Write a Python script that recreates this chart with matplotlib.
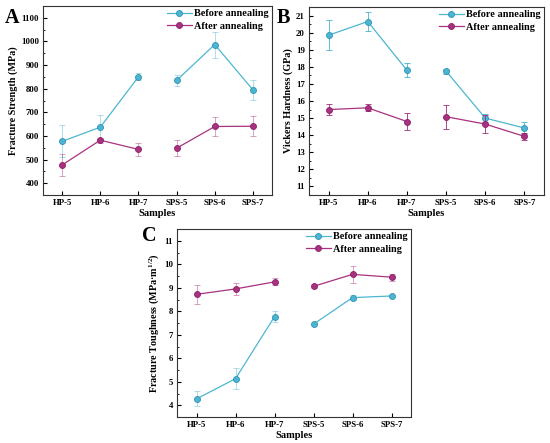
import matplotlib
matplotlib.use("Agg")
import matplotlib.pyplot as plt
from matplotlib.ticker import MultipleLocator

plt.rcParams['font.family'] = ['Liberation Serif', 'DejaVu Serif']
plt.rcParams['font.weight'] = 'bold'
plt.rcParams['mathtext.fontset'] = 'custom'
plt.rcParams['mathtext.rm'] = 'Liberation Serif:bold'
plt.rcParams['mathtext.it'] = 'Liberation Serif:bold'
plt.rcParams['mathtext.bf'] = 'Liberation Serif:bold'

samples = ['HP-5', 'HP-6', 'HP-7', 'SPS-5', 'SPS-6', 'SPS-7']

# A - fracture strength (MPa)
fs_before = [577, 637, 850, 835, 987, 795]
fs_before_err = [68, 50, 15, 25, 55, 43]
fs_after = [477, 582, 543, 548, 640, 641]
fs_after_err = [45, 10, 28, 33, 40, 42]

# B - Vickers hardness (GPa)
hv_before = [19.85, 20.65, 17.8, 17.75, 15.0, 14.42]
hv_before_err = [0.87, 0.55, 0.4, 0.15, 0.25, 0.35]
hv_after = [15.5, 15.6, 14.8, 15.08, 14.65, 13.93]
hv_after_err = [0.33, 0.2, 0.48, 0.7, 0.53, 0.22]

# C - fracture toughness (MPa m^1/2)
kc_before = [4.27, 5.13, 7.77, 7.45, 8.58, 8.65]
kc_before_err = [0.32, 0.45, 0.22, 0.05, 0.1, 0.05]
kc_after = [8.72, 8.95, 9.25, 9.06, 9.57, 9.45]
kc_after_err = [0.4, 0.25, 0.15, 0.05, 0.35, 0.15]

cyan = '#4cb6d2'
cyan_dark = '#2a92b4'
mag = '#a8327f'
mag_dark = '#8c1f68'

W, H = 550, 443
fig = plt.figure(figsize=(W / 100, H / 100), dpi=100)


def px_axes(l, t, r, b):
    return fig.add_axes([l / W, 1 - b / H, (r - l) / W, (b - t) / H])


def panel(ax, before, berr, after, aerr, ylim, major, minor, ylabel, letter,
          err_alpha, lx):
    x = list(range(len(samples)))
    for vals, err, c, cd, lab in [(before, berr, cyan, cyan_dark, 'Before annealing'),
                                  (after, aerr, mag, mag_dark, 'After annealing')]:
        ecol = c if err_alpha < 1 else ('#3aa6c8' if c == cyan else '#9a52b8')
        ax.errorbar(x, vals, yerr=err, fmt='none', ecolor=ecol, elinewidth=0.7,
                    capsize=2, capthick=0.7, alpha=err_alpha)
        for seg in (slice(0, 3), slice(3, 6)):
            ax.plot(x[seg], vals[seg], '-o', color=c, lw=0.9, ms=4.3,
                    mfc=c, mec=cd, mew=0.6,
                    label=lab if seg.start == 0 else None)
    ax.set_xlim(-0.5, 5.5)
    ax.set_ylim(*ylim)
    ax.set_xticks(x)
    ax.set_xticklabels(samples)
    ax.yaxis.set_major_locator(MultipleLocator(major))
    ax.yaxis.set_minor_locator(MultipleLocator(minor))
    ax.tick_params(direction='in', labelsize=6.3, length=3, width=0.8,
                   top=False, right=False, pad=3)
    ax.tick_params(which='minor', direction='in', length=1.5, width=0.6,
                   top=False, right=False)
    for s in ax.spines.values():
        s.set_linewidth(0.8)
        s.set_color('#333333')
    ax.set_xlabel('Samples', fontsize=7.6, fontweight='bold', labelpad=1)
    ax.set_ylabel(ylabel, fontsize=7.3, fontweight='bold', labelpad=2)
    ax.legend(loc='upper right', frameon=False, fontsize=7.4, handlelength=2.5,
              handletextpad=0.2, labelspacing=0.35, borderaxespad=0.2,
              borderpad=0.1)
    fig.text(lx[0] / W, 1 - lx[1] / H, letter, fontsize=14.5, fontweight='bold',
             ha='left', va='top')


axA = px_axes(43, 6, 272, 195)
panel(axA, fs_before, fs_before_err, fs_after, fs_after_err, (350, 1150), 100, 50,
      'Fracture Strength (MPa)', 'A', 0.45, (5, 8))

axB = px_axes(309, 7, 544, 195)
panel(axB, hv_before, hv_before_err, hv_after, hv_after_err, (10.5, 21.5), 1, 0.5,
      'Vickers Hardness (GPa)', 'B', 0.9, (277, 8))

axC = px_axes(177, 229, 411, 417)
panel(axC, kc_before, kc_before_err, kc_after, kc_after_err, (3.5, 11.5), 1, 0.5,
      'Fracture Toughness (MPa·m$^{1/2}$)', 'C', 0.45, (142, 226))

fig.savefig('out.png', dpi=100)
